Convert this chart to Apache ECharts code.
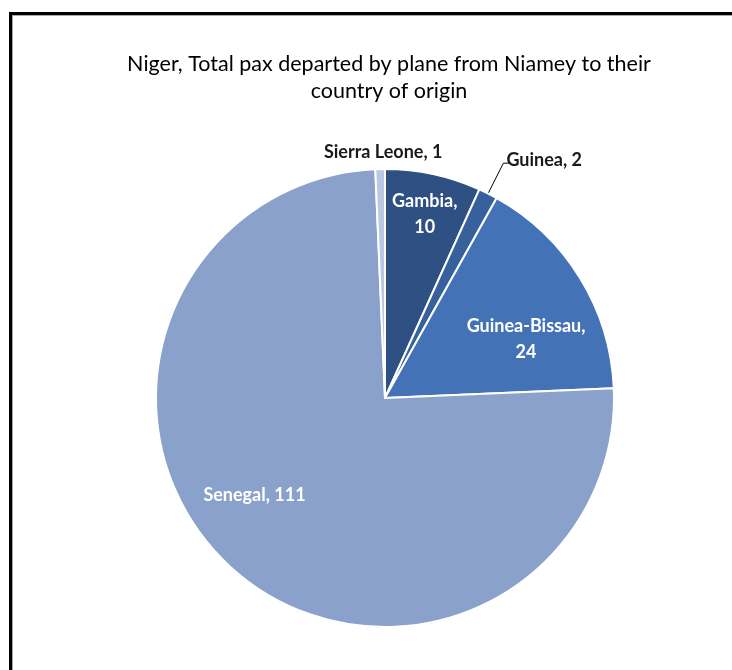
<!DOCTYPE html>
<html><head><meta charset="utf-8">
<script src="https://cdn.jsdelivr.net/npm/echarts@6/dist/echarts.min.js"></script>
<style>
html,body{margin:0;padding:0;background:#fff;}
#wrap{position:relative;width:732px;height:670px;overflow:hidden;}
#frame{position:absolute;left:9px;top:12px;width:800px;height:800px;border-top:3px solid #000;border-left:3px solid #000;box-shadow:inset 1px 1px 0 #aaa;}
#chart{position:absolute;left:0;top:0;width:732px;height:670px;}
</style></head>
<body><div id="wrap"><div id="frame"></div><div id="chart"></div></div>
<script>
const titleText = 'Niger, Total pax departed by plane from Niamey to their\ncountry of origin';
const countries = ['Gambia', 'Guinea', 'Guinea-Bissau', 'Senegal', 'Sierra Leone'];
const passengers = [10, 2, 24, 111, 1];
const sliceColors = ['#2E5083', '#36619C', '#4373B6', '#89A1CB', '#BAC8E1'];

const FONT = 'Lato';
// label styling per country
const labelStyle = {
  'Gambia':        {inside: true,  twoLine: true,  dx: 15,  dy: -69},
  'Guinea':        {inside: false, twoLine: false, dx: -10, dy: -3, line: true},
  'Guinea-Bissau': {inside: true,  twoLine: true,  dx: 41,  dy: 3},
  'Senegal':       {inside: true,  twoLine: false, dx: -51, dy: 11},
  'Sierra Leone':  {inside: false, twoLine: false, dx: 76,  dy: 17, line: false}
};

const data = countries.map((c, i) => {
  const s = labelStyle[c];
  const item = {name: c, value: passengers[i], itemStyle: {color: sliceColors[i]}};
  item.label = {
    show: true,
    position: s.inside ? 'inside' : 'outside',
    formatter: s.twoLine ? '{b},\n{c}' : '{b}, {c}',
    color: s.inside ? '#fff' : '#1a1a1a',
    fontFamily: FONT, fontWeight: 'bold', fontSize: 18, lineHeight: 26
  };
  item.labelLine = {show: !!s.line, length: 34, length2: 8, lineStyle: {color: '#000', width: 1}};
  return item;
});

const chart = echarts.init(document.getElementById('chart'), null, {renderer: 'canvas'});
chart.setOption({
  animation: false,
  backgroundColor: 'transparent',
  title: {
    text: titleText, left: 384, top: 46, textAlign: 'center',
    textStyle: {fontFamily: FONT, fontWeight: 'normal', fontSize: 21.5, color: '#000', lineHeight: 26.5}
  },
  series: [{
    type: 'pie',
    center: [385, 398],
    radius: [0, 229],
    startAngle: 90,
    clockwise: true,
    avoidLabelOverlap: false,
    itemStyle: {borderColor: '#fff', borderWidth: 2},
    data: data,
    labelLayout: function (p) {
      const s = labelStyle[countries[p.dataIndex]];
      return {dx: s.dx, dy: s.dy};
    }
  }]
});
</script></body></html>
